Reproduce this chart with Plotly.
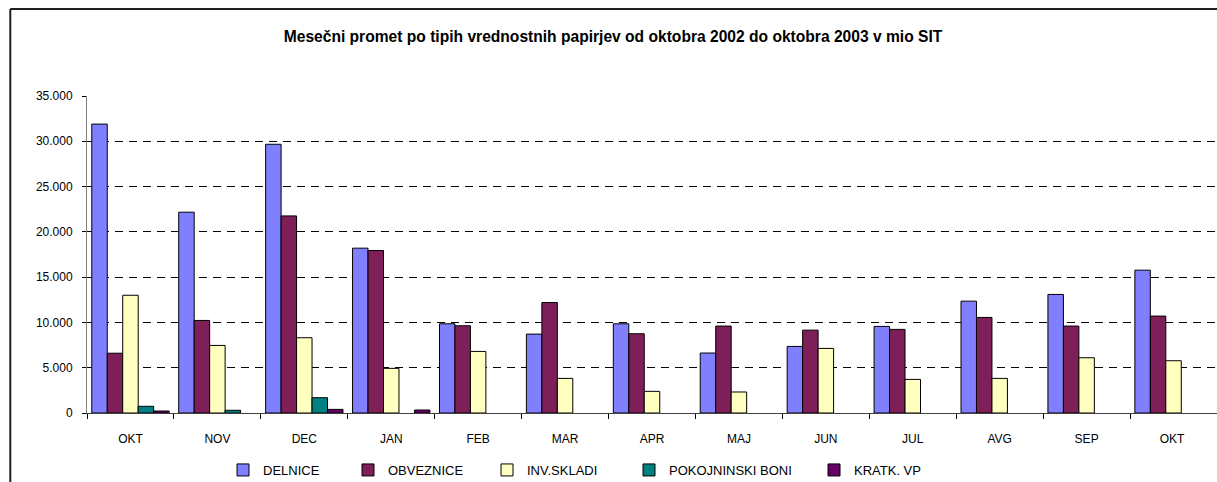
import plotly.graph_objects as go

months = ["OKT", "NOV", "DEC", "JAN", "FEB", "MAR", "APR", "MAJ", "JUN", "JUL", "AVG", "SEP", "OKT "]
delnice = [31900, 22170, 29670, 18200, 9850, 8710, 9850, 6620, 7350, 9560, 12350, 13090, 15770]
obveznice = [6600, 10220, 21760, 17940, 9630, 12200, 8750, 9600, 9150, 9230, 10550, 9600, 10700]
inv_skladi = [13000, 7460, 8310, 4930, 6800, 3820, 2390, 2320, 7130, 3710, 3820, 6100, 5770]
pokojninski = [740, 300, 1690, None, None, None, None, None, None, None, None, None, None]
kratk_vp = [220, None, 400, 330, None, None, None, None, None, None, None, None, None]
y_ticks = [0, 5000, 10000, 15000, 20000, 25000, 30000, 35000]

series_names = ["DELNICE", "OBVEZNICE", "INV.SKLADI", "POKOJNINSKI BONI", "KRATK. VP"]
series_values = [delnice, obveznice, inv_skladi, pokojninski, kratk_vp]
series_colors = ["#8080FF", "#7F1F5A", "#FFFFC0", "#008080", "#660066"]
# page x where each legend label text starts in the reference
legend_text_x = [263, 388, 527, 669, 854]

FONT = "Liberation Sans, Arial, sans-serif"

# body margin removed via post_script; plot area spans page x 87..1217, y 96..413
W, H = 1217, 482
L, T = 87, 96
plot_h = 317
B = H - T - plot_h
plot_w = W - L

fig = go.Figure()
legend_layouts = {}
for i, (name, vals, col) in enumerate(zip(series_names, series_values, series_colors)):
    key = "legend" if i == 0 else f"legend{i + 1}"
    fig.add_trace(go.Bar(
        x=months, y=vals, name=name, legend=key,
        marker=dict(color=col, line=dict(color="#000000", width=1)),
    ))
    legend_layouts[key] = dict(
        orientation="h",
        xref="container", x=(legend_text_x[i] - 40) / W, xanchor="left",
        yref="container", y=1 - 470 / H, yanchor="middle",
        font=dict(family=FONT, size=13, color="#000000"),
        itemwidth=30, bgcolor="rgba(0,0,0,0)",
    )

fig.update_layout(
    width=W, height=H,
    margin=dict(l=L, r=0, t=T, b=B, autoexpand=False),
    paper_bgcolor="white", plot_bgcolor="white",
    separators=",.",
    barmode="group", bargap=0.11, bargroupgap=0,
    font=dict(family=FONT, size=12, color="#000000"),
    title=dict(
        text="<b>Mesečni promet po tipih vrednostnih papirjev od oktobra 2002 do oktobra 2003 v mio SIT</b>",
        x=613 / W, xref="container", xanchor="center",
        y=1 - 37 / H, yref="container", yanchor="middle",
        font=dict(family=FONT, size=15.6, color="#000000"),
    ),
    showlegend=True,
    **legend_layouts,
)

fig.update_xaxes(
    type="category", tickson="boundaries",
    ticks="outside", ticklen=5, tickcolor="#000000",
    showline=True, linecolor="#404040", linewidth=1,
    showgrid=False, tickfont=dict(size=12), ticklabelstandoff=15,
)
fig.update_yaxes(
    range=[0, 35000], tickvals=y_ticks, tickformat=",d",
    ticks="outside", ticklen=4, tickcolor="#000000",
    showline=True, linecolor="#808080", linewidth=1,
    showgrid=True, gridcolor="#000000", gridwidth=1, griddash="8px,6px",
    zeroline=False, tickfont=dict(size=12), ticklabelstandoff=7,
)

# outer chart-area border: only top and left edges are inside the reference crop
top_y = 1 + (T - 9) / plot_h
left_x = (10.3 - L) / plot_w
fig.add_shape(type="line", xref="paper", yref="paper",
              x0=left_x, x1=1.2, y0=top_y, y1=top_y,
              line=dict(color="#202020", width=2), layer="above")
fig.add_shape(type="line", xref="paper", yref="paper",
              x0=left_x, x1=left_x, y0=-0.6, y1=top_y,
              line=dict(color="#202020", width=2), layer="above")

fig.write_html(
    "out.html",
    config={"displayModeBar": False},
    post_script="document.body.style.margin='0';document.body.style.overflow='hidden';",
)
